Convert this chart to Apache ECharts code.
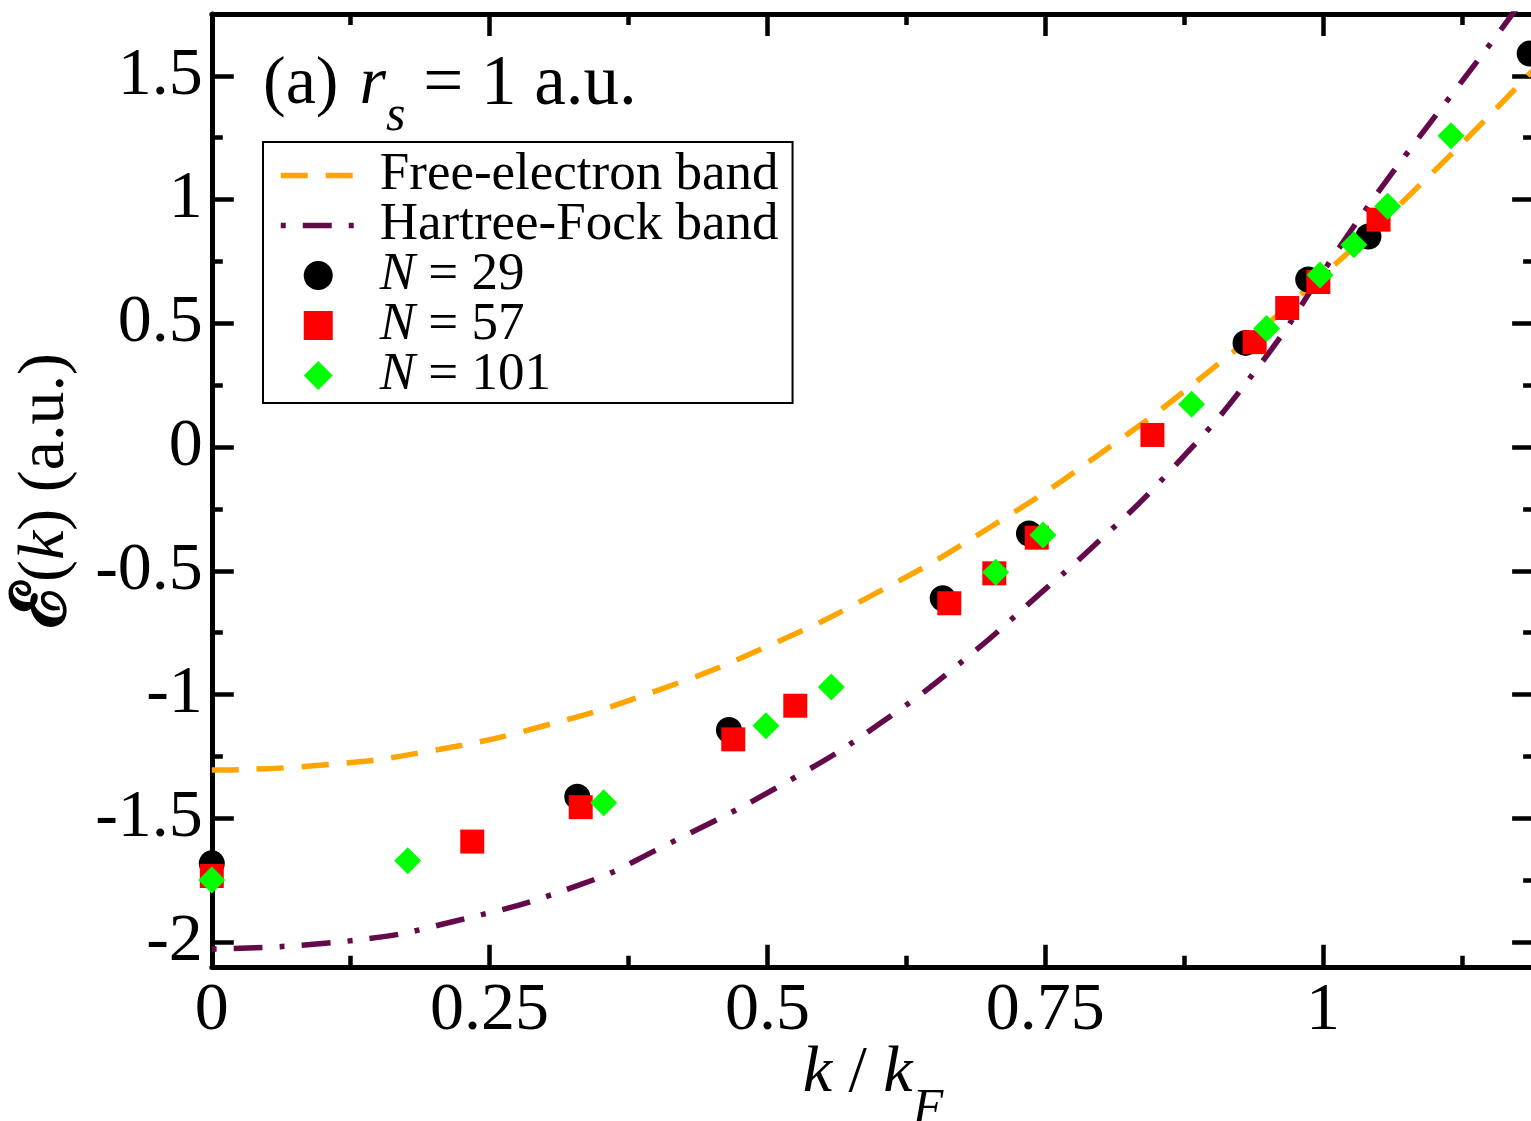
<!DOCTYPE html>
<html><head><meta charset="utf-8">
<script src="https://cdn.jsdelivr.net/npm/echarts@6/dist/echarts.min.js"></script>
<style>html,body{margin:0;padding:0;background:#fff}#c{width:1531px;height:1121px}</style>
</head><body><div id="c"></div>
<script>
// ---- tick values ----
const xMajorTicks = [0, 0.25, 0.5, 0.75, 1];
const xMinorTicks = [0.125, 0.375, 0.625, 0.875, 1.125];
const yMajorTicks = [-2, -1.5, -1, -0.5, 0, 0.5, 1, 1.5];
const yMinorTicks = [-1.75, -1.25, -0.75, -0.25, 0.25, 0.75, 1.25];

// ---- free-electron band ----
const freeK = [0, 0.1, 0.2, 0.3, 0.4, 0.5, 0.6, 0.7, 0.8, 0.9, 1.0, 1.1, 1.2];
const freeE = [-1.305, -1.285, -1.225, -1.125, -0.985, -0.805, -0.585, -0.325, -0.025, 0.315, 0.695, 1.115, 1.575];

// ---- Hartree-Fock band ----
const hfK = [0, 0.1246, 0.2175, 0.3315, 0.4035, 0.5265, 0.6044, 0.6794, 0.7484, 0.7856, 0.8617, 0.941, 1.0108, 1.0462, 1.0828, 1.1203, 1.1577, 1.19];
const hfE = [-2.028, -1.995, -1.917, -1.768, -1.620, -1.330, -1.107, -0.851, -0.580, -0.433, -0.100, 0.319, 0.780, 1.009, 1.230, 1.450, 1.672, 1.870];

// ---- N = 29 ----
const n29K = [0, 0.3289, 0.4654, 0.6578, 0.7354, 0.9303, 0.9867, 1.0409, 1.186];
const n29E = [-1.682, -1.4125, -1.143, -0.611, -0.349, 0.421, 0.677, 0.851, 1.590];

// ---- N = 57 ----
const n57K = [0, 0.2344, 0.3320, 0.4693, 0.5251, 0.6637, 0.7042, 0.7424, 0.8465, 0.9385, 0.9678, 0.9958, 1.0500];
const n57E = [-1.733, -1.594, -1.455, -1.181, -1.045, -0.631, -0.510, -0.366, 0.049, 0.424, 0.562, 0.667, 0.919];

// ---- N = 101 ----
const n101K = [0, 0.1763, 0.3527, 0.4987, 0.5575, 0.7055, 0.7480, 0.8818, 0.9492, 0.9973, 1.0278, 1.0582, 1.1152];
const n101E = [-1.749, -1.671, -1.437, -1.126, -0.969, -0.506, -0.355, 0.173, 0.479, 0.695, 0.818, 0.973, 1.258];

const zip = (a, b) => a.map((v, i) => [v, b[i]]);
const FONT = "'Liberation Serif','Times New Roman',serif";
const X_MIN = 0, X_MAX = 1.19, Y_MIN = -2.1, Y_MAX = 1.75;
const ORANGE = '#FFA500', PURPLE = '#64094A';
const FE_DASH = [27, 18], HF_DASH = [29, 17, 5, 17];
const SQUARE_ICON = 'path://M0,0L10,0L10,10L0,10Z';
const DIAMOND_ICON = 'path://M5,0L10,5L5,10L0,5Z';

function xAx(pos, ticks, len, showLine, labels) {
  return {
    type: 'value', position: pos, min: X_MIN, max: X_MAX,
    axisLine: {show: showLine, onZero: false, lineStyle: {color: '#000', width: 5}},
    axisTick: {show: true, inside: true, length: len, customValues: ticks, lineStyle: {color: '#000', width: 4.5}},
    axisLabel: labels ? {show: true, customValues: ticks, margin: 10, fontFamily: FONT, fontSize: 68, lineHeight: 68, color: '#000',
      formatter: v => (xMajorTicks.some(t => Math.abs(t - v) < 1e-9) ? String(v) : '')} : {show: false},
    splitLine: {show: false}, minorTick: {show: false}
  };
}
function yAx(pos, ticks, len, showLine, labels) {
  return {
    type: 'value', position: pos, min: Y_MIN, max: Y_MAX,
    axisLine: {show: showLine, onZero: false, lineStyle: {color: '#000', width: 5}},
    axisTick: {show: true, inside: true, length: len, customValues: ticks, lineStyle: {color: '#000', width: 4.5}},
    axisLabel: labels ? {show: true, customValues: ticks, margin: 9, fontFamily: FONT, fontSize: 68, lineHeight: 68, color: '#000',
      formatter: v => (yMajorTicks.some(t => Math.abs(t - v) < 1e-9) ? String(v) : '')} : {show: false},
    splitLine: {show: false}, minorTick: {show: false}
  };
}

const xAxes = [
  xAx('bottom', xMajorTicks, 22, true, true),
  xAx('bottom', xMinorTicks, 11, false, false),
  xAx('top', xMajorTicks, 22, true, false),
  xAx('top', xMinorTicks, 11, false, false)
];
Object.assign(xAxes[0], {
  name: '{i|k} / {i|k}{sub|F}', nameLocation: 'middle', nameGap: 74, nameMoveOverlap: false,
  nameTextStyle: {fontFamily: FONT, fontSize: 66, lineHeight: 66, color: '#000',
    rich: {i: {fontFamily: FONT, fontSize: 66, lineHeight: 66, fontStyle: 'italic', color: '#000'},
           sub: {fontFamily: FONT, fontSize: 50, lineHeight: 66, fontStyle: 'italic', color: '#000', padding: [72, 0, 0, 0]}}}
});
const yAxes = [
  yAx('left', yMajorTicks, 22, true, true),
  yAx('left', yMinorTicks, 11, false, false),
  yAx('right', yMajorTicks, 22, true, false),
  yAx('right', yMinorTicks, 11, false, false)
];
Object.assign(yAxes[0], {
  name: '{E|ℰ}({i|k}) (a.u.)', nameLocation: 'middle', nameGap: 133, nameRotate: 90, nameMoveOverlap: false,
  nameTextStyle: {fontFamily: FONT, fontSize: 66, lineHeight: 66, color: '#000',
    rich: {E: {fontFamily: FONT, fontSize: 76, lineHeight: 66, fontWeight: 'bold', color: '#000'},
           i: {fontFamily: FONT, fontSize: 66, lineHeight: 66, fontStyle: 'italic', color: '#000'}}}
});

const legendRich = {i: {fontFamily: FONT, fontSize: 53, lineHeight: 50, fontStyle: 'italic', color: '#000'}};

const option = {
  animation: false,
  backgroundColor: '#fff',
  title: {
    text: '(a) {i|r}{sub|s}{t| = 1 a.u.}', left: 263, top: 51, padding: 0,
    textStyle: {fontFamily: FONT, fontSize: 68, lineHeight: 68, fontWeight: 'normal', color: '#000',
      rich: {i: {fontFamily: FONT, fontSize: 68, lineHeight: 68, fontStyle: 'italic', color: '#000', padding: [0, 0, 0, 4]},
             sub: {fontFamily: FONT, fontSize: 50, lineHeight: 68, fontStyle: 'italic', color: '#000', padding: [64, 0, 0, 0]},
             t: {fontFamily: FONT, fontSize: 71, lineHeight: 68, color: '#000'}}}
  },
  grid: {left: 211.8, top: 14, width: (X_MAX - X_MIN) * 1111.2, height: 952.8, containLabel: false, outerBoundsMode: 'none'},
  legend: {
    orient: 'vertical', left: 263, top: 142,
    padding: [7, 14, 1, 15], itemGap: -3, itemWidth: 75, itemHeight: 29, symbolKeepAspect: true,
    borderColor: '#000', borderWidth: 2, backgroundColor: '#fff',
    textStyle: {fontFamily: FONT, fontSize: 53, lineHeight: 50, color: '#000', padding: [0, 0, 0, 19], rich: legendRich},
    formatter: n => n.replace(/^N /, '{i|N} '),
    data: [
      {name: 'Free-electron band', itemStyle: {opacity: 0}, lineStyle: {width: 5.5, color: ORANGE, type: FE_DASH, opacity: 1}},
      {name: 'Hartree-Fock band', itemStyle: {opacity: 0}, lineStyle: {width: 5.5, color: PURPLE, type: HF_DASH, dashOffset: 46, opacity: 1}},
      {name: 'N = 29', icon: 'circle'},
      {name: 'N = 57', icon: SQUARE_ICON},
      {name: 'N = 101', icon: DIAMOND_ICON}
    ]
  },
  xAxis: xAxes,
  yAxis: yAxes,
  series: [
    {name: 'Free-electron band', type: 'line', data: zip(freeK, freeE), smooth: true, symbol: 'none',
      lineStyle: {color: ORANGE, width: 5.5, type: FE_DASH}, itemStyle: {color: ORANGE}, z: 2},
    {name: 'Hartree-Fock band', type: 'line', data: zip(hfK, hfE), smooth: true, symbol: 'none',
      lineStyle: {color: PURPLE, width: 5.5, type: HF_DASH, dashOffset: 46}, itemStyle: {color: PURPLE}, z: 2},
    {name: 'N = 29', type: 'scatter', data: zip(n29K, n29E), symbol: 'circle', symbolSize: 26, symbolKeepAspect: true,
      itemStyle: {color: '#000', opacity: 1}, z: 3},
    {name: 'N = 57', type: 'scatter', data: zip(n57K, n57E), symbol: 'rect', symbolSize: 24, symbolKeepAspect: true,
      itemStyle: {color: '#FF0000', opacity: 1}, z: 4},
    {name: 'N = 101', type: 'scatter', data: zip(n101K, n101E), symbol: 'diamond', symbolSize: 27, symbolKeepAspect: true,
      itemStyle: {color: '#00FF00', opacity: 1}, z: 5}
  ]
};
const chart = echarts.init(document.getElementById('c'), null, {renderer: 'canvas'});
chart.setOption(option);
</script>
</body></html>
